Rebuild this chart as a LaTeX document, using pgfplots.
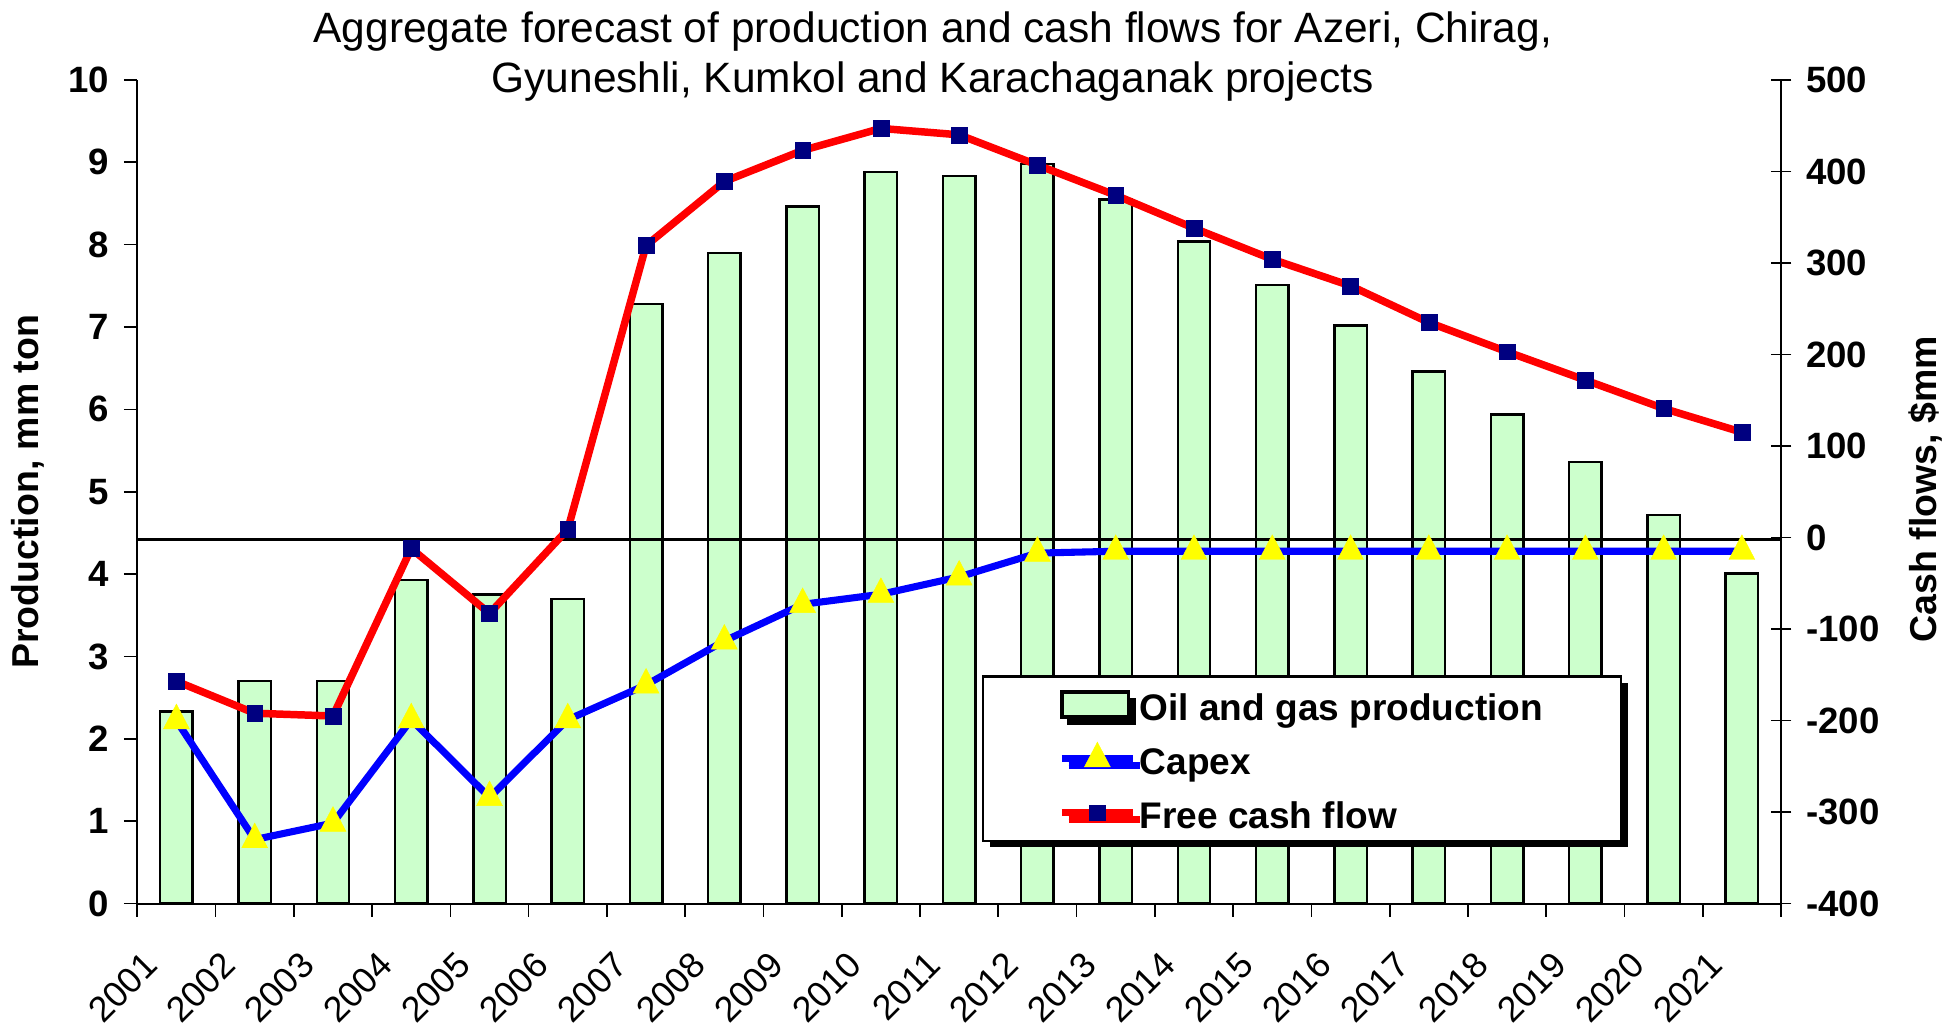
\documentclass[border=0pt]{standalone}
\usepackage{fontspec}
\setmainfont{Liberation Sans}
\usepackage{pgfplots}
\usepackage{pgfplotstable}
\pgfplotsset{compat=1.18}
\usetikzlibrary{shadows}
\definecolor{barfill}{HTML}{CCFFCC}
\definecolor{navy}{HTML}{000080}
\definecolor{pblue}{HTML}{0000FF}
\definecolor{pred}{HTML}{FF0000}
\definecolor{pyellow}{HTML}{FFFF00}
\pgfplotstableread{
x prod capex fcf
0 2.33 -200 -157
1 2.70 -330 -192
2 2.70 -312 -195
3 3.93 -199 -12
4 3.75 -284 -83
5 3.70 -199 9
6 7.28 -161 319
7 7.90 -113 389
8 8.46 -73 423
9 8.88 -62 447
10 8.83 -43 440
11 8.98 -17 407
12 8.55 -15 374
13 8.04 -15 338
14 7.51 -15 304
15 7.02 -15 275
16 6.46 -15 235
17 5.94 -15 203
18 5.36 -15 172
19 4.72 -15 141
20 4.01 -15 115
}\datatable
\begin{document}
\begin{tikzpicture}
\useasboundingbox (0pt,0pt) rectangle (470.4pt,246pt);
\begin{axis}[
  at={(33pt,28.8pt)}, anchor=south west,
  scale only axis, width=395.1pt, height=198pt,
  xmin=-0.5, xmax=20.5, ymin=0, ymax=10,
  axis x line*=bottom, axis y line*=left,
  axis line style={line width=0.5pt, black},
  xtick={-0.5,0.5,...,20.5},
  xticklabels={},
  extra x ticks={0,1,...,20},
  extra x tick labels={2001,2002,2003,2004,2005,2006,2007,2008,2009,2010,2011,2012,2013,2014,2015,2016,2017,2018,2019,2020,2021},
  extra x tick style={tick style={draw=none}},
  ytick={0,1,...,10},
  major tick length=3.2pt,
  tick align=outside,
  tick style={black, line width=0.4pt},
  xticklabel style={xshift=-8.3pt, yshift=-6.3pt, rotate=45, anchor=north east, font=\fontsize{8.6}{10}\selectfont, inner sep=1pt},
  yticklabel style={font=\bfseries\fontsize{8.8}{10}\selectfont},
  /pgf/number format/assume math mode=true,
  ylabel={Production, mm ton},
  ylabel style={at={(axis description cs:-0.0668,0.5)}, anchor=center, font=\bfseries\fontsize{9}{10}\selectfont},
  title={Aggregate forecast of production and cash flows for Azeri, Chirag,\\Gyuneshli, Kumkol and Karachaganak projects},
  title style={at={(axis description cs:0.484,1.053)}, anchor=north, align=center, font=\fontsize{10.2}{12}\selectfont, inner sep=0pt},
  ybar, bar width=7.8pt,
]
\addplot[fill=barfill, draw=black, line width=0.6pt] table[x=x,y=prod]{\datatable};
\end{axis}
\begin{axis}[
  at={(33pt,28.8pt)}, anchor=south west,
  scale only axis, width=395.1pt, height=198pt,
  xmin=-0.5, xmax=20.5, ymin=-400, ymax=500,
  axis x line=none, axis y line*=right,
  axis line style={line width=0.5pt, black},
  ytick={-400,-300,...,500},
  tick align=center, major tick length=5pt,
  tick style={black, line width=0.4pt},
  yticklabel style={font=\bfseries\fontsize{8.8}{10}\selectfont},
  /pgf/number format/assume math mode=true,
  ylabel={Cash flows, \$mm},
  ylabel style={at={(axis description cs:1.088,0.503)}, anchor=center, font=\bfseries\fontsize{9}{10}\selectfont},
  legend style={at={(axis description cs:0.514,0.277)}, anchor=north west,
    draw=black, line width=0.5pt, fill=white,
    font=\bfseries\fontsize{8.9}{10}\selectfont,
    inner xsep=18pt, inner ysep=2.1pt, row sep=3.7pt,
    nodes={inner xsep=0.75pt, inner ysep=0pt, text height=8.5pt, text depth=0.8pt},
    drop shadow={shadow xshift=1.6pt, shadow yshift=-1.6pt, fill=black, opacity=1}},
  legend cell align=left,
]
\addlegendimage{legend image code/.code={\draw[fill=barfill, draw=black, line width=0.8pt] (0pt,-3pt) rectangle (16pt,3pt);}}
\addlegendentry{Oil and gas production}
\addplot[black, line width=0.8pt, forget plot] coordinates {(-0.5,-2) (20.5,-2)};
\addplot[pblue, line width=1.7pt, mark=triangle*, mark size=3.6pt, mark options={fill=pyellow, draw=pyellow, line width=0.1pt, solid, yscale=1.1}] table[x=x,y=capex]{\datatable};
\addlegendentry{Capex}
\addplot[pred, line width=1.8pt, mark=square*, mark size=1.9pt, mark options={fill=navy, draw=navy, line width=0.1pt, solid}] table[x=x,y=fcf]{\datatable};
\addlegendentry{Free cash flow}
\end{axis}
\end{tikzpicture}
\end{document}
